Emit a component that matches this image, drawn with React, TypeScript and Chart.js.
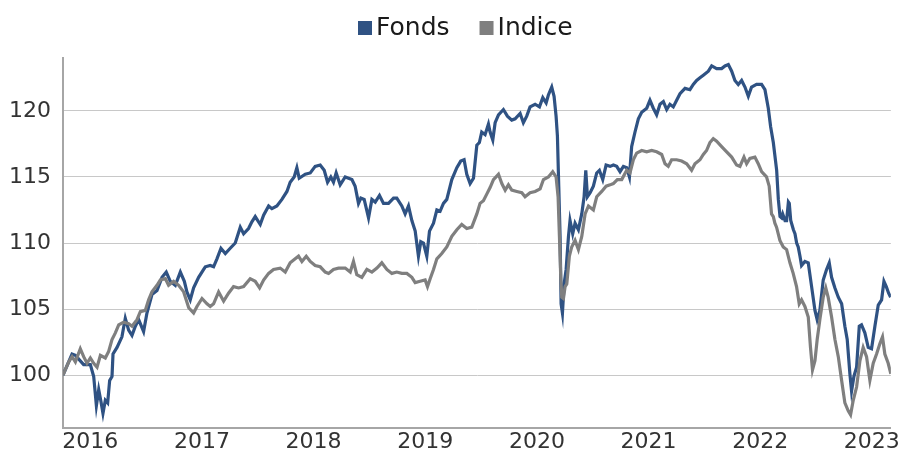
import React, { useEffect, useRef } from "react";
import { Chart, registerables } from "chart.js";

Chart.register(...registerables);

const seriesNames = ["Fonds", "Indice"];
const seriesColors = ["#2F5283", "#7F7F7F"];

const fondsDates = [
  2015.755, 2015.836, 2015.866, 2015.94, 2016.0, 2016.03, 2016.054, 2016.075, 2016.095, 2016.113,
  2016.134, 2016.155, 2016.173, 2016.194, 2016.203, 2016.239, 2016.283, 2016.313, 2016.343, 2016.373,
  2016.403, 2016.433, 2016.477, 2016.507, 2016.552, 2016.597, 2016.642, 2016.68, 2016.716, 2016.761,
  2016.806, 2016.842, 2016.865, 2016.895, 2016.925, 2016.97, 2017.015, 2017.03, 2017.074, 2017.104,
  2017.134, 2017.17, 2017.209, 2017.253, 2017.298, 2017.343, 2017.373, 2017.417, 2017.447, 2017.477,
  2017.522, 2017.552, 2017.597, 2017.626, 2017.671, 2017.716, 2017.761, 2017.79, 2017.826, 2017.85,
  2017.871, 2017.925, 2017.97, 2018.014, 2018.059, 2018.095, 2018.125, 2018.154, 2018.178, 2018.202,
  2018.238, 2018.283, 2018.343, 2018.372, 2018.402, 2018.423, 2018.453, 2018.492, 2018.522, 2018.552,
  2018.59, 2018.626, 2018.671, 2018.716, 2018.745, 2018.79, 2018.82, 2018.85, 2018.88, 2018.91,
  2018.939, 2018.96, 2018.984, 2019.014, 2019.038, 2019.074, 2019.104, 2019.133, 2019.163, 2019.193,
  2019.238, 2019.283, 2019.318, 2019.348, 2019.372, 2019.402, 2019.432, 2019.462, 2019.485, 2019.506,
  2019.536, 2019.566, 2019.581, 2019.605, 2019.626, 2019.656, 2019.7, 2019.736, 2019.775, 2019.805,
  2019.85, 2019.879, 2019.909, 2019.939, 2019.984, 2020.023, 2020.053, 2020.083, 2020.103, 2020.133,
  2020.154, 2020.172, 2020.184, 2020.196, 2020.208, 2020.217, 2020.229, 2020.244, 2020.262, 2020.283,
  2020.297, 2020.321, 2020.342, 2020.372, 2020.402, 2020.423, 2020.438, 2020.453, 2020.477, 2020.506,
  2020.536, 2020.56, 2020.59, 2020.62, 2020.656, 2020.685, 2020.715, 2020.745, 2020.775, 2020.805,
  2020.829, 2020.849, 2020.879, 2020.909, 2020.939, 2020.984, 2021.013, 2021.043, 2021.073, 2021.103,
  2021.133, 2021.163, 2021.192, 2021.222, 2021.252, 2021.282, 2021.327, 2021.371, 2021.401, 2021.431,
  2021.461, 2021.491, 2021.536, 2021.566, 2021.61, 2021.655, 2021.685, 2021.715, 2021.745, 2021.774,
  2021.804, 2021.834, 2021.864, 2021.894, 2021.923, 2021.968, 2022.013, 2022.043, 2022.073, 2022.094,
  2022.118, 2022.148, 2022.163, 2022.178, 2022.192, 2022.202, 2022.223, 2022.237, 2022.253, 2022.261,
  2022.274, 2022.298, 2022.312, 2022.327, 2022.341, 2022.357, 2022.371, 2022.401, 2022.431, 2022.461,
  2022.491, 2022.511, 2022.535, 2022.565, 2022.595, 2022.619, 2022.64, 2022.67, 2022.7, 2022.73,
  2022.759, 2022.78, 2022.804, 2022.819, 2022.84, 2022.864, 2022.888, 2022.908, 2022.938, 2022.968,
  2022.998, 2023.028, 2023.058, 2023.088, 2023.109, 2023.13, 2023.151, 2023.169,
];
const fondsValues = [
  100.0, 101.6, 101.5, 100.8, 100.8, 99.9, 97.7, 98.9, 98.0, 97.1,
  98.1, 97.9, 99.6, 99.9, 101.6, 102.1, 102.9, 104.3, 103.4, 103.0,
  103.7, 104.2, 103.3, 104.7, 106.1, 106.4, 107.4, 107.8, 107.1, 106.8,
  107.8, 107.1, 106.3, 105.7, 106.6, 107.4, 108.0, 108.2, 108.3, 108.2,
  108.8, 109.6, 109.2, 109.6, 110.0, 111.2, 110.7, 111.1, 111.6, 112.0,
  111.4, 112.1, 112.8, 112.6, 112.8, 113.3, 113.9, 114.6, 115.0, 115.7,
  114.9, 115.2, 115.3, 115.8, 115.9, 115.5, 114.6, 115.0, 114.6, 115.3,
  114.4, 115.0, 114.8, 114.3, 113.0, 113.4, 113.3, 111.9, 113.3, 113.1,
  113.6, 113.0, 113.0, 113.4, 113.4, 112.8, 112.2, 112.8, 111.7, 110.9,
  109.0, 110.1, 110.0, 109.0, 110.9, 111.5, 112.5, 112.4, 113.0, 113.3,
  114.8, 115.7, 116.2, 116.3, 115.2, 114.5, 114.9, 117.4, 117.6, 118.4,
  118.2, 119.0, 118.4, 117.8, 119.1, 119.7, 120.1, 119.6, 119.3, 119.4,
  119.8, 119.1, 119.6, 120.3, 120.5, 120.3, 121.0, 120.6, 121.2, 121.8,
  121.1, 119.6, 118.1, 114.3, 110.5, 105.4, 104.7, 106.9, 108.0, 110.5,
  111.7, 110.7, 111.5, 111.0, 112.2, 113.5, 115.5, 113.5, 113.8, 114.3,
  115.3, 115.5, 114.8, 115.9, 115.8, 115.9, 115.8, 115.4, 115.8, 115.7,
  115.0, 117.3, 118.4, 119.4, 119.9, 120.2, 120.8, 120.2, 119.7, 120.5,
  120.7, 120.1, 120.5, 120.3, 120.8, 121.3, 121.7, 121.6, 122.0, 122.3,
  122.5, 122.7, 123.0, 123.4, 123.2, 123.2, 123.4, 123.5, 123.0, 122.3,
  122.0, 122.3, 121.8, 121.1, 121.8, 122.0, 122.0, 121.6, 120.2, 118.8,
  117.6, 115.5, 113.3, 112.0, 111.9, 112.2, 111.7, 111.7, 113.1, 113.0,
  111.7, 111.0, 110.7, 110.0, 109.7, 109.0, 108.3, 108.6, 108.5, 106.7,
  104.9, 104.2, 104.9, 107.2, 108.0, 108.5, 107.4, 106.6, 105.9, 105.4,
  103.7, 102.7, 100.1, 98.8, 99.9, 100.6, 103.7, 103.8, 103.2, 102.1,
  102.0, 103.7, 105.3, 105.7, 107.1, 106.7, 106.2, 105.9,
];

const indiceDates = [
  2015.755, 2015.806, 2015.836, 2015.866, 2015.91, 2015.94, 2015.97, 2016.0, 2016.03, 2016.06,
  2016.09, 2016.134, 2016.164, 2016.194, 2016.224, 2016.254, 2016.298, 2016.343, 2016.373, 2016.418,
  2016.448, 2016.492, 2016.522, 2016.552, 2016.597, 2016.627, 2016.672, 2016.701, 2016.746, 2016.791,
  2016.836, 2016.881, 2016.925, 2016.955, 2017.0, 2017.045, 2017.074, 2017.104, 2017.149, 2017.194,
  2017.238, 2017.283, 2017.328, 2017.373, 2017.432, 2017.477, 2017.516, 2017.552, 2017.597, 2017.641,
  2017.701, 2017.746, 2017.79, 2017.835, 2017.865, 2017.895, 2017.934, 2017.97, 2018.014, 2018.059,
  2018.104, 2018.134, 2018.178, 2018.223, 2018.283, 2018.328, 2018.357, 2018.387, 2018.432, 2018.477,
  2018.522, 2018.567, 2018.611, 2018.656, 2018.701, 2018.745, 2018.79, 2018.835, 2018.88, 2018.91,
  2018.954, 2018.999, 2019.02, 2019.044, 2019.074, 2019.104, 2019.148, 2019.193, 2019.238, 2019.283,
  2019.327, 2019.372, 2019.417, 2019.462, 2019.491, 2019.521, 2019.551, 2019.581, 2019.611, 2019.656,
  2019.686, 2019.716, 2019.745, 2019.775, 2019.82, 2019.865, 2019.894, 2019.939, 2019.984, 2020.029,
  2020.059, 2020.103, 2020.142, 2020.172, 2020.19, 2020.202, 2020.214, 2020.223, 2020.238, 2020.253,
  2020.268, 2020.291, 2020.312, 2020.342, 2020.372, 2020.402, 2020.432, 2020.462, 2020.506, 2020.536,
  2020.581, 2020.62, 2020.656, 2020.685, 2020.721, 2020.76, 2020.805, 2020.834, 2020.864, 2020.894,
  2020.939, 2020.984, 2021.028, 2021.073, 2021.118, 2021.148, 2021.177, 2021.207, 2021.252, 2021.297,
  2021.342, 2021.386, 2021.416, 2021.461, 2021.491, 2021.52, 2021.55, 2021.58, 2021.61, 2021.655,
  2021.7, 2021.745, 2021.789, 2021.819, 2021.855, 2021.879, 2021.908, 2021.953, 2021.983, 2022.013,
  2022.057, 2022.081, 2022.102, 2022.118, 2022.132, 2022.147, 2022.177, 2022.207, 2022.237, 2022.267,
  2022.296, 2022.326, 2022.35, 2022.371, 2022.401, 2022.431, 2022.451, 2022.469, 2022.491, 2022.511,
  2022.535, 2022.565, 2022.588, 2022.609, 2022.64, 2022.67, 2022.7, 2022.73, 2022.759, 2022.789,
  2022.81, 2022.834, 2022.864, 2022.894, 2022.923, 2022.953, 2022.983, 2023.013, 2023.043, 2023.073,
  2023.096, 2023.117, 2023.147, 2023.171,
];
const indiceValues = [
  100.0, 101.0, 101.4, 101.0, 102.0, 101.4, 100.9, 101.3, 100.9, 100.6,
  101.5, 101.3, 101.8, 102.7, 103.2, 103.8, 104.0, 103.9, 103.7, 104.2,
  104.8, 104.9, 105.7, 106.3, 106.8, 107.2, 107.3, 106.8, 107.1, 106.8,
  106.3, 105.1, 104.7, 105.2, 105.8, 105.4, 105.2, 105.4, 106.3, 105.6,
  106.2, 106.7, 106.6, 106.7, 107.3, 107.1, 106.6, 107.2, 107.7, 108.0,
  108.1, 107.8, 108.5, 108.8, 109.0, 108.6, 109.0, 108.6, 108.3, 108.2,
  107.8, 107.7, 108.0, 108.1, 108.1, 107.8, 108.6, 107.6, 107.4, 108.0,
  107.8, 108.1, 108.5, 108.0, 107.7, 107.8, 107.7, 107.7, 107.4, 107.0,
  107.1, 107.2, 106.7, 107.3, 108.0, 108.8, 109.2, 109.7, 110.5, 111.0,
  111.4, 111.1, 111.2, 112.2, 113.0, 113.2, 113.7, 114.2, 114.8, 115.2,
  114.5, 114.0, 114.4, 114.0, 113.9, 113.8, 113.5, 113.8, 113.9, 114.1,
  114.8, 115.0, 115.4, 115.0, 113.5, 110.5, 107.4, 105.9, 105.8, 106.7,
  106.9, 109.0, 109.7, 110.2, 109.5, 110.5, 112.2, 112.8, 112.5, 113.5,
  113.9, 114.3, 114.4, 114.5, 114.8, 114.8, 115.5, 115.3, 116.3, 116.8,
  117.0, 116.9, 117.0, 116.9, 116.7, 116.0, 115.8, 116.3, 116.3, 116.2,
  116.0, 115.5, 116.0, 116.3, 116.7, 117.0, 117.6, 117.9, 117.7, 117.3,
  116.9, 116.5, 115.9, 115.8, 116.5, 116.0, 116.4, 116.5, 116.0, 115.4,
  115.0, 114.3, 112.2, 112.0, 111.5, 111.2, 110.2, 109.7, 109.5, 108.5,
  107.7, 106.7, 105.4, 105.7, 105.2, 104.4, 102.1, 100.4, 101.1, 102.7,
  104.2, 105.9, 106.6, 105.9, 104.4, 102.7, 101.4, 99.6, 97.9, 97.3,
  97.0, 98.1, 99.1, 101.1, 102.1, 101.4, 99.6, 100.9, 101.6, 102.4,
  102.9, 101.6, 100.9, 100.1,
];

const xTickYears = [2016, 2017, 2018, 2019, 2020, 2021, 2022, 2023];
const yTickValues = [100, 105, 110, 115, 120];

const FONT = "'DejaVu Sans', 'Liberation Sans', sans-serif";

const legendPlugin = {
  id: "customLegend",
  afterDraw(chart: any) {
    const ctx = chart.ctx;
    ctx.save();
    ctx.font = `25px ${FONT}`;
    ctx.textBaseline = "alphabetic";
    ctx.textAlign = "left";
    let x = 358;
    const box = 14;
    seriesNames.forEach((name, i) => {
      ctx.fillStyle = seriesColors[i];
      ctx.fillRect(x, 21, box, box);
      ctx.fillStyle = "#1a1a1a";
      const tx = x + box + 4;
      ctx.fillText(name, tx, 35);
      x = tx + ctx.measureText(name).width + 30;
    });
    ctx.restore();
  },
};

export default function App() {
  const ref = useRef<HTMLCanvasElement | null>(null);

  useEffect(() => {
    if (!ref.current) return;
    const mk = (dates: number[], vals: number[]) => dates.map((d, i) => ({ x: d, y: vals[i] }));
    const chart = new Chart(ref.current, {
      type: "line",
      data: {
        datasets: [
          {
            label: seriesNames[0],
            data: mk(fondsDates, fondsValues),
            borderColor: seriesColors[0],
            backgroundColor: seriesColors[0],
            borderWidth: 3.2,
            pointRadius: 0,
            tension: 0,
            order: 2,
          },
          {
            label: seriesNames[1],
            data: mk(indiceDates, indiceValues),
            borderColor: seriesColors[1],
            backgroundColor: seriesColors[1],
            borderWidth: 3.2,
            pointRadius: 0,
            tension: 0,
            order: 1,
          },
        ],
      },
      options: {
        responsive: false,
        animation: false,
        events: [],
        layout: { padding: { top: 58, right: 10, left: 0, bottom: 0 } },
        plugins: { legend: { display: false }, tooltip: { enabled: false } },
        scales: {
          x: {
            type: "linear",
            min: 2015.755,
            max: 2023.171,
            afterBuildTicks: (s: any) => {
              s.ticks = xTickYears.map((v) => ({ value: v }));
            },
            afterFit: (s: any) => {
              s.height = 27;
            },
            grid: { display: false, drawTicks: false },
            border: { display: true, color: "#A6A6A6", width: 2 },
            ticks: {
              padding: 1,
              maxRotation: 0,
              autoSkip: false,
              color: "#333333",
              font: { family: FONT, size: 22 },
              callback: (v: any) => String(v),
            },
          },
          y: {
            min: 96,
            max: 124,
            afterBuildTicks: (s: any) => {
              s.ticks = yTickValues.map((v) => ({ value: v }));
            },
            afterFit: (s: any) => {
              s.width = 63;
            },
            grid: { color: "#C8C8C8", lineWidth: 1, drawTicks: false },
            border: { display: true, color: "#A6A6A6", width: 2 },
            ticks: {
              padding: 12,
              color: "#333333",
              font: { family: FONT, size: 22 },
              callback: (v: any) => String(v),
            },
          },
        },
      },
      plugins: [legendPlugin],
    });
    return () => chart.destroy();
  }, []);

  return (
    <div style={{ position: "fixed", left: 0, top: 0, width: 901, height: 455, background: "#fff" }}>
      <canvas ref={ref} width={901} height={455} style={{ width: 901, height: 455 }} />
    </div>
  );
}
